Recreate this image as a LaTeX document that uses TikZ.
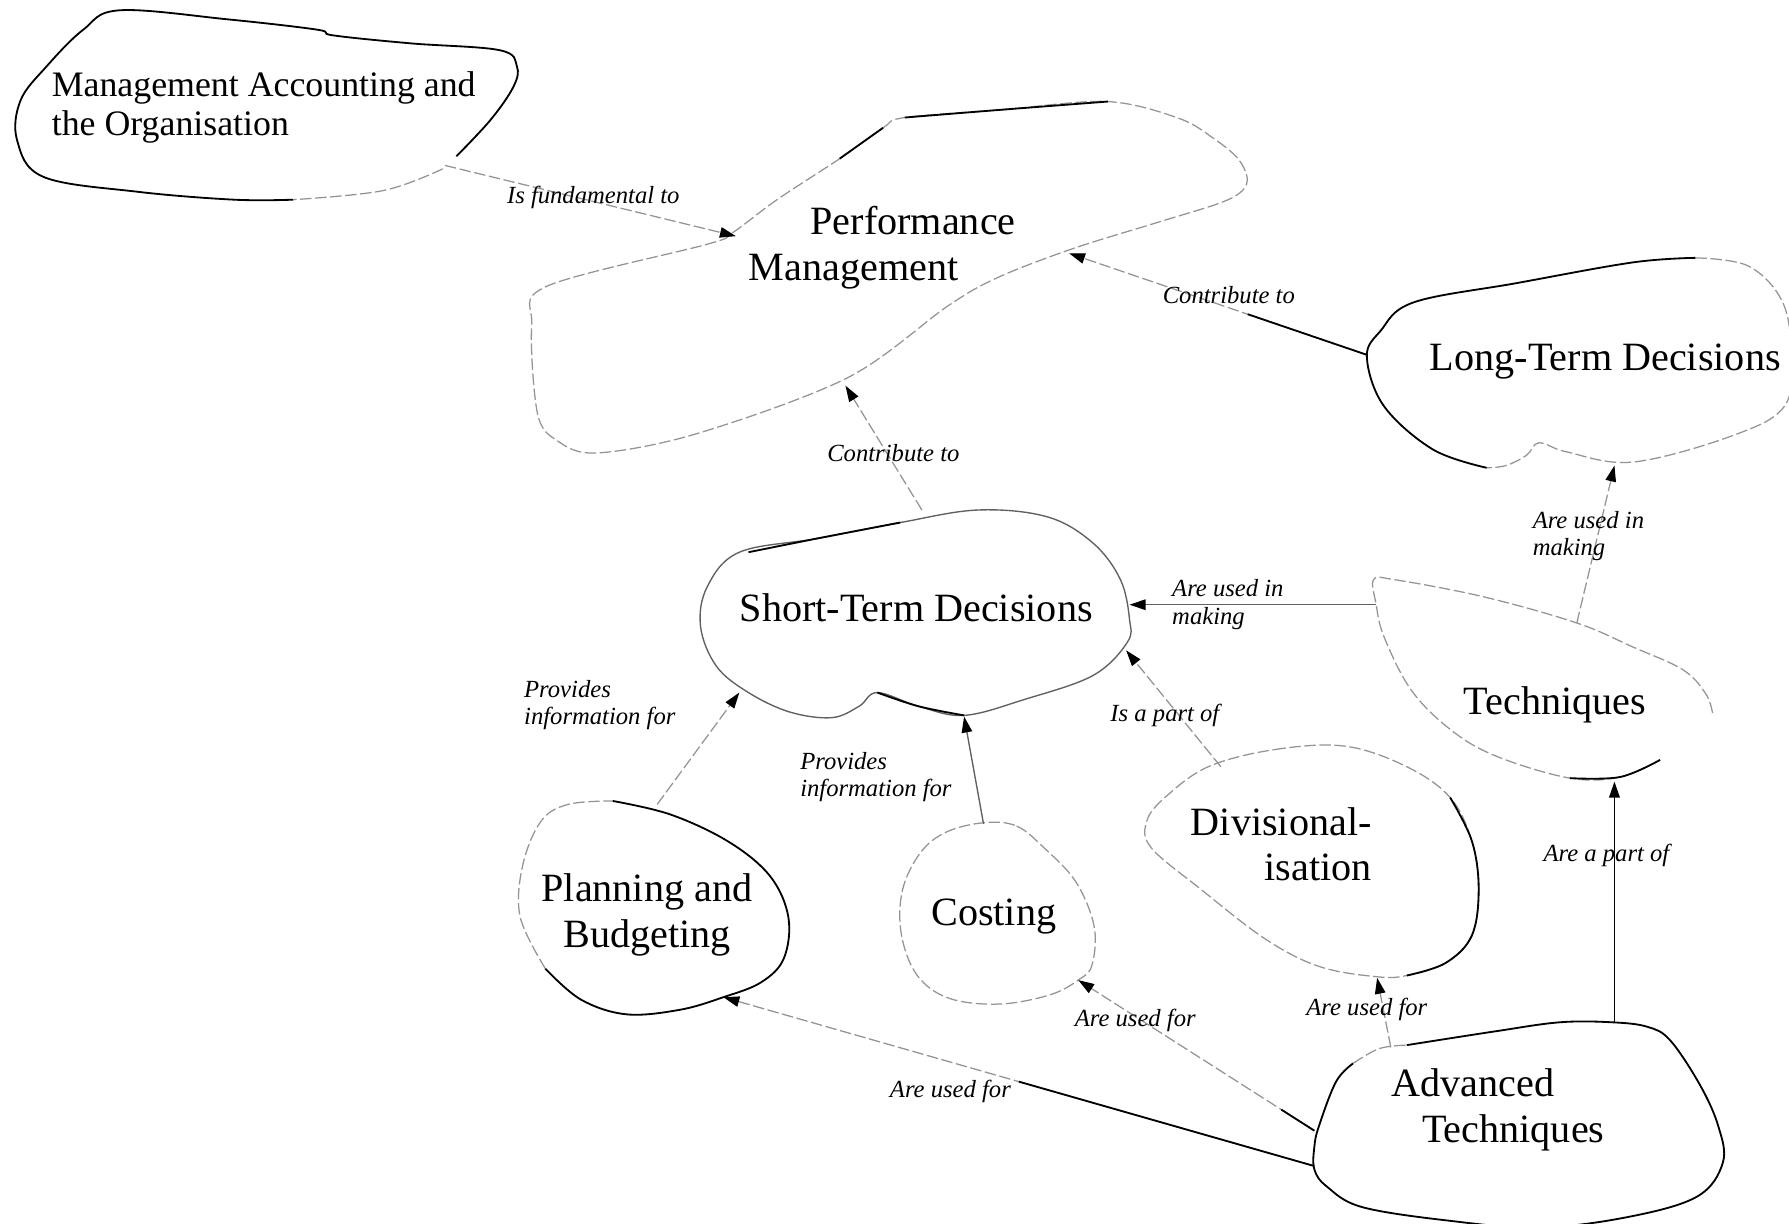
\documentclass[tikz,border=0pt]{standalone}
\usepackage{fontspec}
\setmainfont{Liberation Serif}
\usetikzlibrary{arrows.meta,calc}
\newcommand\cmfont{\fontsize{17.6pt}{20pt}\selectfont}
\newcommand\mafont{\fontsize{15.7pt}{17pt}\selectfont}
\newcommand\lbfont{\fontsize{10.8pt}{12pt}\selectfont\itshape}
\tikzset{
  concept/.style={font=\cmfont, inner sep=0pt},
  lab/.style={font=\lbfont, inner sep=0pt, align=left},
  faintline/.style={draw=black!42, line width=0.55pt, dash pattern=on 5pt off 1.6pt},
  greyline/.style={draw=black!62, line width=0.6pt},
  darkline/.style={draw=black, line width=0.8pt},
  tip/.style={-{Triangle[length=7pt,width=4.6pt,color=black]}}
}
\begin{document}
\begin{tikzpicture}[x=0.5pt,y=-0.5pt]
\useasboundingbox[fill=white] (0,0) rectangle (1568,1072);

% ---------- blobs ----------
% Management Accounting and the Organisation
\draw[darkline] plot[smooth, tension=0.6] coordinates {(257,175) (205,175) (120,168) (38,155) (15,123) (18,88) (41,58) (73,26) (105,9) (200,17) (278,26) (292,31) (360,38) (438,44) (453,58) (450,76) (430,105) (400,137)};
\draw[faintline] plot[smooth, tension=0.6] coordinates {(388,148) (336,167) (257,175)};

% Performance Management
\draw[faintline] plot[smooth cycle, tension=0.55] coordinates {(736,139) (774,112) (793,103) (880,96) (971,89) (1034,104) (1066,123) (1085,139) (1093,155) (1089,167) (1069,178) (1011,196) (940,218) (875,243) (831,268) (743,331) (611,380) (523,397) (488,386) (471,362) (466,285) (479,251) (620,214) (642,204) (681,175)};
\draw[darkline] (736,139) -- (774,112);
\draw[darkline] plot[smooth, tension=0.6] coordinates {(793,103) (880,96) (971,89)};

% Long-Term Decisions
\draw[faintline] plot[smooth, tension=0.6] coordinates {(1486,226) (1532,233) (1562,264) (1570,310) (1564,356) (1518,382) (1431,405) (1373,396) (1349,388) (1338,399) (1320,408) (1303,410)};
\draw[darkline] plot[smooth, tension=0.6] coordinates {(1303,410) (1256,394) (1213,356) (1198,313) (1210,290) (1239,265) (1330,248) (1431,230) (1486,226)};

% Short-Term Decisions
\draw[greyline] plot[smooth cycle, tension=0.6] coordinates {(648,484) (716,472) (789,458) (857,447) (918,453) (958,476) (982,508) (990,543) (988,563) (958,592) (898,613) (845,627) (805,619) (769,607) (753,619) (729,629) (692,624) (656,607) (628,584) (614,549) (620,514)};
\draw[darkline] plot[smooth, tension=0.6] coordinates {(656,484) (716,472) (789,458)};
\draw[darkline] plot[smooth, tension=0.6] coordinates {(769,607) (805,619) (845,627)};

% Planning and Budgeting
\draw[faintline] plot[smooth, tension=0.6] coordinates {(478,849) (456,804) (458,759) (474,720) (498,705) (537,702)};
\draw[darkline] plot[smooth, tension=0.6] coordinates {(537,702) (588,714) (639,738) (675,768) (691,804) (687,840) (667,861) (634,874) (596,885) (549,889) (509,876) (478,849)};

% Costing
\draw[faintline] plot[smooth cycle, tension=0.6] coordinates {(863,721) (891,724) (915,743) (943,773) (959,812) (957,846) (945,859) (920,872) (876,880) (832,875) (804,855) (790,819) (791,780) (807,747) (830,729)};

% Divisionalisation
\draw[faintline] plot[smooth cycle, tension=0.6] coordinates {(1059,672) (1117,657) (1179,654) (1233,672) (1271,699) (1290,737) (1296,779) (1290,820) (1267,844) (1233,855) (1206,856) (1156,847) (1109,823) (1052,779) (1009,743) (1005,720) (1021,699)};
\draw[darkline] plot[smooth, tension=0.6] coordinates {(1271,699) (1290,737) (1296,779) (1290,820) (1267,844) (1233,855)};

% Techniques
\draw[faintline] plot[smooth, tension=0.6] coordinates {(1501,625) (1495,608) (1475,587) (1431,567) (1382,546) (1300,523) (1222,508) (1204,508) (1206,529) (1213,558) (1237,605) (1272,640) (1312,663) (1376,682) (1420,681) (1455,666)};
\draw[darkline] plot[smooth, tension=0.6] coordinates {(1376,682) (1420,681) (1455,666)};

% Advanced Techniques
\draw[darkline] plot[smooth, tension=0.6] coordinates {(1233,916) (1310,904) (1367,896) (1413,896) (1444,900) (1464,912) (1490,951) (1506,987) (1510,1019) (1487,1049) (1425,1067) (1348,1076) (1271,1070) (1194,1058) (1163,1040) (1152,1025) (1152,1005) (1156,987) (1171,948) (1186,932)};
\draw[faintline] plot[smooth, tension=0.6] coordinates {(1186,932) (1209,919) (1233,916)};

% ---------- concept texts ----------
\node[concept, font=\mafont, align=left, anchor=west] (mao) at (45,94) {Management Accounting and\\the Organisation};
\node[concept, align=left, anchor=west] (pm) at (656,217) {\hspace*{27pt}Performance\\Management};
\node[concept] (ltd) at (1407,317) {Long-Term Decisions};
\node[concept] (std) at (803,533) {Short-Term Decisions};
\node[concept, align=center] (pb) at (567,802) {Planning and\\Budgeting};
\node[concept] (cost) at (871,803) {Costing};
\node[concept, align=right] (div) at (1123,740) {Divisional-\\isation};
\node[concept] (tech) at (1363,618) {Techniques};
\node[concept, align=left, anchor=west] (adv) at (1219,973) {Advanced\\\hspace*{13.5pt}Techniques};

% ---------- connection points ----------
\coordinate (mao-out) at (390,145);
\coordinate (pm-in1) at (645,207);
\coordinate (ltd-out) at (1198,311);
\coordinate (pm-in2) at (937,222);
\coordinate (std-out) at (808,447);
\coordinate (pm-in3) at (741,338);
\coordinate (tech-out1) at (1206,530);
\coordinate (std-in1) at (990,530);
\coordinate (tech-out2) at (1382,546);
\coordinate (ltd-in) at (1415,408);
\coordinate (pb-out) at (576,705);
\coordinate (std-in2) at (648,607);
\coordinate (cost-out) at (862,722);
\coordinate (std-in3) at (845,628);
\coordinate (div-out) at (1070,672);
\coordinate (std-in4) at (987,570);
\coordinate (adv-out1) at (1415,896);
\coordinate (tech-in) at (1415,685);
\coordinate (adv-out2) at (1219,918);
\coordinate (div-in) at (1207,857);
\coordinate (adv-out3) at (1152,991);
\coordinate (cost-in) at (945,859);
\coordinate (adv-out4) at (1152,1022);
\coordinate (pb-in) at (634,874);

% ---------- connectors ----------
\draw[faintline, tip] (mao-out) -- (pm-in1);
\draw[faintline, tip] (ltd-out) -- (pm-in2);
\draw[darkline] (ltd-out) -- ($(ltd-out)!0.4!(pm-in2)$);
\draw[faintline, tip] (std-out) -- (pm-in3);
\draw[greyline, tip] (tech-out1) -- (std-in1);
\draw[faintline, tip] (tech-out2) -- (ltd-in);
\draw[faintline, tip] (pb-out) -- (std-in2);
\draw[greyline, tip] (cost-out) -- (std-in3);
\draw[faintline, tip] (div-out) -- (std-in4);
\draw[darkline, tip] (adv-out1) -- (tech-in);
\draw[faintline, tip] (adv-out2) -- (div-in);
\draw[faintline, tip] (adv-out3) -- (cost-in);
\draw[darkline] (adv-out3) -- ($(adv-out3)!0.14!(cost-in)$);
\draw[faintline, tip] (adv-out4) -- (pb-in);
\draw[darkline] (adv-out4) -- ($(adv-out4)!0.5!(pb-in)$);

% ---------- labels ----------
\node[lab] (l1) at (520,173) {Is fundamental to};
\node[lab] (l2) at (1077,259) {Contribute to};
\node[lab] (l3) at (783,397) {Contribute to};
\node[lab, anchor=west] (l4) at (1027,530) {Are used in\\making};
\node[lab, anchor=west] (l5) at (1343,470) {Are used in\\making};
\node[lab, anchor=west] (l6) at (459,618) {Provides\\information for};
\node[lab, anchor=west] (l7) at (701,681) {Provides\\information for};
\node[lab] (l8) at (1021,627) {Is a part of};
\node[lab] (l9) at (1408,750) {Are a part of};
\node[lab] (l10) at (1198,885) {Are used for};
\node[lab] (l11) at (995,894) {Are used for};
\node[lab] (l12) at (833,957) {Are used for};
\end{tikzpicture}
\end{document}
